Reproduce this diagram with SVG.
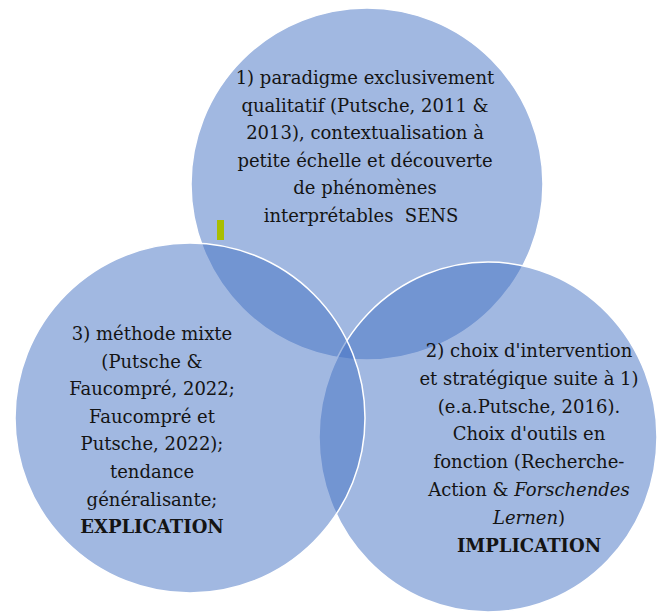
<svg xmlns="http://www.w3.org/2000/svg" width="659" height="612" viewBox="0 0 659 612">
<style>
.c{fill:#4472C4;fill-opacity:0.5;stroke:#ffffff;stroke-width:1.5}
.t{font-family:"DejaVu Serif","Liberation Serif",serif;font-size:18px;fill:#141414;text-anchor:middle;white-space:pre}
.b{font-weight:bold}
.i{font-style:italic}
</style>
<rect width="659" height="612" fill="#ffffff"/>
<g id="node-sens">
<ellipse class="c" cx="367" cy="184" rx="176" ry="176"/>
<text class="t" x="365" y="84">1) paradigme exclusivement</text>
<text class="t" x="365" y="111.5">qualitatif (Putsche, 2011 &amp;</text>
<text class="t" x="365" y="139">2013), contextualisation à</text>
<text class="t" x="365" y="166.5">petite échelle et découverte</text>
<text class="t" x="365" y="194">de phénomènes</text>
<text class="t" x="361" y="221.5" xml:space="preserve">interprétables  SENS</text>
</g>
<g id="node-implication">
<ellipse class="c" cx="488" cy="437" rx="169" ry="175"/>
<text class="t" x="529" y="357">2) choix d'intervention</text>
<text class="t" x="529" y="384.8">et stratégique suite à 1)</text>
<text class="t" x="529" y="412.6">(e.a.Putsche, 2016).</text>
<text class="t" x="529" y="440.4">Choix d'outils en</text>
<text class="t" x="529" y="468.2">fonction (Recherche-</text>
<text class="t" x="529" y="496">Action &amp; <tspan class="i">Forschendes</tspan></text>
<text class="t" x="529" y="523.8"><tspan class="i">Lernen</tspan>)</text>
<text class="t b" x="529" y="551.6">IMPLICATION</text>
</g>
<g id="node-explication">
<ellipse class="c" cx="190" cy="418" rx="175" ry="175"/>
<text class="t" x="152" y="340">3) méthode mixte</text>
<text class="t" x="152" y="367.6">(Putsche &amp;</text>
<text class="t" x="152" y="395.2">Faucompré, 2022;</text>
<text class="t" x="152" y="422.8">Faucompré et</text>
<text class="t" x="152" y="450.4">Putsche, 2022);</text>
<text class="t" x="152" y="478">tendance</text>
<text class="t" x="152" y="505.6">généralisante;</text>
<text class="t b" x="152" y="533.2">EXPLICATION</text>
</g>
<rect id="mark" x="217" y="220" width="7" height="20" fill="#A9BE00"/>
</svg>
